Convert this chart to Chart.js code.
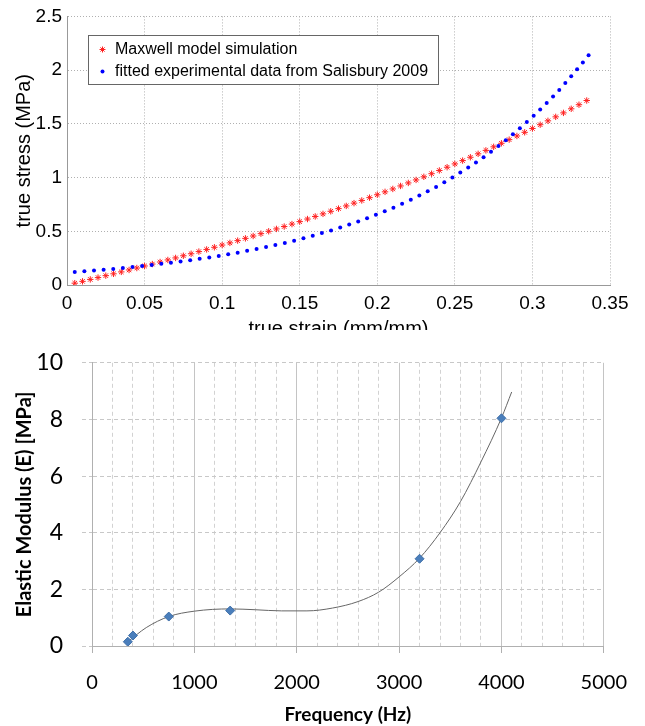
<!DOCTYPE html>
<html>
<head>
<meta charset="utf-8">
<script src="https://cdn.jsdelivr.net/npm/chart.js@4.4.1/dist/chart.umd.min.js"></script>
<style>
  body { margin: 0; background: #fff; }
  #wrap { position: relative; width: 645px; height: 726px; background: #fff; overflow: hidden; }
  #stressChart { position: absolute; left: 0; top: 0; }
  #modulusChart { position: absolute; left: 0; top: 330px; background: #fff; }
</style>
</head>
<body>
<div id="wrap">
  <canvas id="stressChart" width="645" height="345"></canvas>
  <canvas id="modulusChart" width="645" height="396"></canvas>
</div>
<script>
// верхний график: true stress / true strain
const strain = [
  0.005, 0.01, 0.015, 0.02, 0.025, 0.03, 0.035, 0.04, 0.045, 0.05,
  0.055, 0.06, 0.065, 0.07, 0.075, 0.08, 0.085, 0.09, 0.095, 0.1,
  0.105, 0.11, 0.115, 0.12, 0.125, 0.13, 0.135, 0.14, 0.145, 0.15,
  0.155, 0.16, 0.165, 0.17, 0.175, 0.18, 0.185, 0.19, 0.195, 0.2,
  0.205, 0.21, 0.215, 0.22, 0.225, 0.23, 0.235, 0.24, 0.245, 0.25,
  0.255, 0.26, 0.265, 0.27, 0.275, 0.28, 0.285, 0.29, 0.295, 0.3,
  0.305, 0.31, 0.315, 0.32, 0.325, 0.33, 0.335
];
const maxwellStress = [
  0.017, 0.034, 0.052, 0.069, 0.087, 0.104, 0.122, 0.140, 0.158, 0.177,
  0.195, 0.214, 0.233, 0.252, 0.272, 0.291, 0.311, 0.331, 0.351, 0.372,
  0.392, 0.413, 0.434, 0.456, 0.478, 0.500, 0.522, 0.544, 0.567, 0.590,
  0.614, 0.638, 0.662, 0.686, 0.711, 0.736, 0.762, 0.787, 0.813, 0.840,
  0.867, 0.894, 0.922, 0.950, 0.978, 1.007, 1.036, 1.066, 1.096, 1.127,
  1.158, 1.189, 1.221, 1.253, 1.286, 1.319, 1.353, 1.387, 1.421, 1.457,
  1.492, 1.528, 1.565, 1.602, 1.640, 1.678, 1.717
];
const fitStrain = [
  0.005, 0.0112, 0.0174, 0.0236, 0.0298, 0.036, 0.0422, 0.0484, 0.0546, 0.0608,
  0.067, 0.0732, 0.0794, 0.0855, 0.0917, 0.0978, 0.1039, 0.11, 0.1161, 0.1222,
  0.1283, 0.1343, 0.1404, 0.1464, 0.1524, 0.1584, 0.1643, 0.1702, 0.1761, 0.1819,
  0.1877, 0.1934, 0.1991, 0.2048, 0.2104, 0.216, 0.2216, 0.2271, 0.2325, 0.2379,
  0.2432, 0.2484, 0.2535, 0.2586, 0.2636, 0.2685, 0.2733, 0.2781, 0.2828, 0.2874,
  0.2919, 0.2964, 0.3008, 0.305, 0.3092, 0.3133, 0.3173, 0.3212, 0.325, 0.3288,
  0.3325, 0.3362
];
const fitStress = [
  0.121, 0.128, 0.135, 0.142, 0.150, 0.158, 0.167, 0.177, 0.186, 0.197,
  0.208, 0.219, 0.231, 0.244, 0.257, 0.271, 0.286, 0.301, 0.318, 0.335,
  0.353, 0.372, 0.392, 0.413, 0.435, 0.459, 0.483, 0.508, 0.535, 0.562,
  0.591, 0.621, 0.653, 0.686, 0.720, 0.756, 0.793, 0.832, 0.872, 0.913,
  0.956, 1.000, 1.046, 1.093, 1.141, 1.190, 1.241, 1.294, 1.347, 1.402,
  1.458, 1.516, 1.575, 1.633, 1.693, 1.754, 1.816, 1.879, 1.942, 2.007,
  2.072, 2.139
];
const strainTicks = [0, 0.05, 0.1, 0.15, 0.2, 0.25, 0.3, 0.35];
const stressTicks = [0, 0.5, 1, 1.5, 2, 2.5];

// нижний график: Elastic Modulus / Frequency
const freq = [350, 400, 750, 1350, 3200, 4000];
const modulus = [0.15, 0.37, 1.04, 1.25, 3.08, 8.04];
const trendFreq = [350, 530, 750, 1000, 1350, 1600, 1850, 2100, 2350, 2600, 2800, 3000, 3200, 3400, 3600, 3800, 4000, 4100];
const trendModulus = [0.15, 0.65, 1.04, 1.23, 1.31, 1.28, 1.24, 1.24, 1.34, 1.57, 1.9, 2.44, 3.1, 4.0, 5.1, 6.5, 8.05, 8.97];
const freqTicks = [0, 1000, 2000, 3000, 4000, 5000];
const freqGrid = [0, 200, 400, 600, 800, 1000, 1200, 1400, 1600, 1800, 2000, 2200, 2400, 2600, 2800, 3000,
  3200, 3400, 3600, 3800, 4000, 4200, 4400, 4600, 4800, 5000];
const modulusTicks = [0, 2, 4, 6, 8, 10];

const toXY = (xs, ys) => xs.map((x, i) => ({ x: x, y: ys[i] }));
const fixTicks = (list) => (scale) => { scale.ticks = list.map((v) => ({ value: v })); };

// легенда в рамке как в matlab
const legendBox = {
  id: "legendBox",
  afterDatasetsDraw(chart) {
    const ctx = chart.ctx;
    ctx.save();
    ctx.fillStyle = "#fff";
    ctx.fillRect(88.5, 35.5, 350, 49);
    ctx.strokeStyle = "#666";
    ctx.lineWidth = 1;
    ctx.strokeRect(88.5, 35.5, 350, 49);
    const rows = [49.5, 71.5];
    chart.data.datasets.forEach((ds, i) => {
      const y = rows[i];
      if (ds.pointStyle === "star") {
        ctx.strokeStyle = ds.borderColor;
        ctx.beginPath();
        ctx.moveTo(102.5 - 3, y); ctx.lineTo(102.5 + 3, y);
        ctx.moveTo(102.5, y - 3); ctx.lineTo(102.5, y + 3);
        ctx.moveTo(100.4, y - 2.1); ctx.lineTo(104.6, y + 2.1);
        ctx.moveTo(100.4, y + 2.1); ctx.lineTo(104.6, y - 2.1);
        ctx.stroke();
      } else {
        ctx.fillStyle = ds.backgroundColor;
        ctx.beginPath();
        ctx.arc(102.5, y, 2, 0, Math.PI * 2);
        ctx.fill();
      }
      ctx.fillStyle = "#000";
      ctx.font = "16px 'Liberation Sans'";
      ctx.textBaseline = "middle";
      ctx.fillText(ds.label, 115, y);
    });
    ctx.restore();
  },
};

const topFont = "'Liberation Sans', Arial, sans-serif";

new Chart(document.getElementById("stressChart"), {
  type: "scatter",
  plugins: [legendBox],
  data: {
    datasets: [
      {
        label: "Maxwell model simulation",
        data: toXY(strain, maxwellStress),
        pointStyle: "star",
        pointRadius: 3.2,
        borderColor: "#ff2020",
        backgroundColor: "#ff2020",
        borderWidth: 1,
        order: 1,
      },
      {
        label: "fitted experimental data from Salisbury 2009",
        data: toXY(fitStrain, fitStress),
        pointStyle: "circle",
        pointRadius: 2,
        borderWidth: 0,
        backgroundColor: "#0000ff",
        borderColor: "#0000ff",
        order: 0,
      },
    ],
  },
  options: {
    responsive: false,
    animation: false,
    layout: { padding: { top: 11, right: 35, left: 0, bottom: 0 } },
    plugins: { legend: { display: false }, tooltip: { enabled: false } },
    scales: {
      x: {
        type: "linear",
        min: 0,
        max: 0.35,
        afterBuildTicks: fixTicks(strainTicks),
        afterFit: (scale) => { scale.height = 60; },
        ticks: {
          color: "#000",
          padding: 7,
          font: { family: topFont, size: 19 },
          callback: (v) => String(+v.toFixed(2)),
        },
        grid: { color: "#b0b0b0", drawTicks: false },
        border: { color: "#999", dash: [1, 2] },
        title: {
          display: true,
          text: "true strain (mm/mm)",
          color: "#000",
          font: { family: topFont, size: 20 },
          padding: { top: 0, bottom: 4 },
        },
      },
      y: {
        type: "linear",
        min: 0,
        max: 2.5,
        afterBuildTicks: fixTicks(stressTicks),
        afterFit: (scale) => { scale.width = 67; },
        ticks: {
          color: "#000",
          padding: 5,
          font: { family: topFont, size: 19 },
          callback: (v) => String(+v.toFixed(2)),
        },
        grid: { color: "#b0b0b0", drawTicks: false },
        border: { color: "#999", dash: [1, 2] },
        title: {
          display: true,
          text: "true stress (MPa)",
          color: "#000",
          font: { family: topFont, size: 20 },
          padding: { top: 12, bottom: 0 },
        },
      },
    },
  },
});

const isMajor = (c) => c.tick && freqTicks.includes(Math.round(c.tick.value));
const botFont = "Lato, 'Open Sans', sans-serif";

new Chart(document.getElementById("modulusChart"), {
  type: "scatter",
  data: {
    datasets: [
      {
        label: "E",
        data: toXY(freq, modulus),
        pointStyle: "rectRot",
        pointRadius: 4.5,
        backgroundColor: "#4a7ebb",
        borderColor: "#3f6fa8",
        borderWidth: 1,
      },
      {
        label: "trend",
        data: toXY(trendFreq, trendModulus),
        showLine: true,
        pointRadius: 0,
        borderColor: "#666",
        borderWidth: 1,
        cubicInterpolationMode: "monotone",
      },
    ],
  },
  options: {
    responsive: false,
    animation: false,
    layout: { padding: { top: 18, right: 37, left: 0, bottom: 0 } },
    plugins: { legend: { display: false }, tooltip: { enabled: false } },
    scales: {
      x: {
        type: "linear",
        min: 0,
        max: 5000,
        afterBuildTicks: fixTicks(freqGrid),
        afterFit: (scale) => { scale.height = 80; },
        ticks: {
          autoSkip: false,
          maxRotation: 0,
          color: "#000",
          padding: 18,
          font: { family: botFont, size: 20 },
          callback: (v) => (freqTicks.includes(Math.round(v)) ? v : ""),
        },
        grid: {
          color: (c) => (isMajor(c) ? "#c4c4c4" : "#d2d2d2"),
          tickColor: (c) => (isMajor(c) ? "#b0b0b0" : "rgba(0,0,0,0)"),
          tickLength: 7,
        },
        border: { color: "#b0b0b0", dash: (c) => (isMajor(c) ? [] : [4, 3]) },
        title: {
          display: true,
          text: "Frequency (Hz)",
          color: "#000",
          font: { family: botFont, size: 19, weight: "bold" },
          padding: { top: 0, bottom: 0 },
        },
      },
      y: {
        type: "linear",
        min: 0,
        max: 10,
        afterBuildTicks: fixTicks(modulusTicks),
        afterFit: (scale) => { scale.width = 92; },
        ticks: {
          color: "#000",
          padding: 19,
          font: { family: botFont, size: 23 },
        },
        grid: { color: "#c8c8c8", tickColor: "#c8c8c8", tickLength: 10, tickBorderDash: [4, 3] },
        border: { color: "#b0b0b0", dash: [4, 3] },
        title: {
          display: true,
          text: "Elastic Modulus (E) [MPa]",
          color: "#000",
          font: { family: botFont, size: 20, weight: "bold" },
          padding: { top: 13, bottom: 0 },
        },
      },
    },
  },
});
</script>
</body>
</html>
